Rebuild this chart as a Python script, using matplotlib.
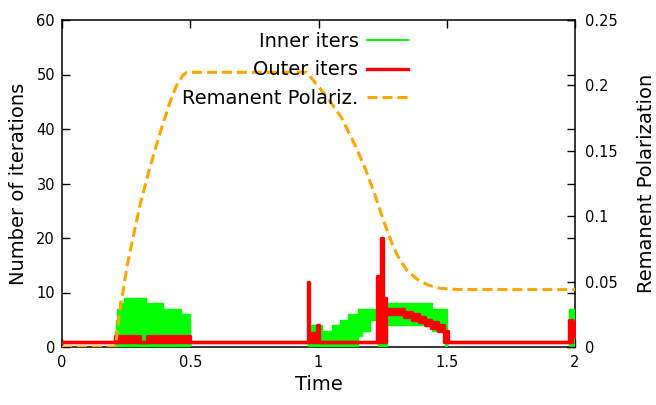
import numpy as np
import matplotlib
matplotlib.use("Agg")
import matplotlib.pyplot as plt
from matplotlib.lines import Line2D

nan = np.nan

# Inner iterations: step envelope (low/high) per time step, NaN splits active windows
inner_t = [0.2066, 0.209, 0.2157, 0.226, 0.2417, 0.326, 0.392, 0.464, 0.499, nan,
           0.960, 1.015, 1.051, 1.083, 1.116, 1.155, 1.170, 1.200, 1.233, 1.266,
           1.441, 1.495, 1.500, nan,
           1.978, 2.0]
inner_hi = [3, 5, 7, 8, 9, 8, 7, 6, 6, nan,
            4, 3, 4, 5, 6, 7, 7, 7, 8, 8,
            7, 7, 7, nan,
            7, 7]
inner_lo = [0, 0, 0, 0, 0, 0, 0, 0, 0, nan,
            0, 0, 0, 0, 0, 2, 3, 5, 0, 4,
            3, 0, 0, nan,
            0, 0]

# Outer iterations: step envelope (low/high)
outer_t = [0.0, 0.207, 0.304, 0.330, 0.500, 0.958, 0.962, 0.994, 1.003, 1.229,
           1.243, 1.250, 1.262, 1.335, 1.365, 1.390, 1.415, 1.440, 1.465, 1.490,
           1.503, 1.978, 1.987, 2.0]
outer_hi = [1, 2, 1, 2, 1, 12, 2.5, 4, 1, 13,
            20, 9, 7, 6.5, 6, 5.5, 5, 4.5, 4, 3,
            1, 5, 4.5, 4.5]
outer_lo = [1, 1, 1, 1, 1, 1, 1, 1, 1, 1,
            1, 1, 6, 5.5, 5, 4.5, 4, 3.5, 3, 1,
            1, 1, 2, 2]

# Remanent polarization versus time
pol_t = [0.0, 0.2066, 0.2105, 0.2195, 0.2288, 0.2390, 0.2522, 0.2585, 0.3041, 0.3431,
         0.3821, 0.4211, 0.4472, 0.4729, 0.4873, 0.9540, 0.9786, 1.0320, 1.0905, 1.1423,
         1.1813, 1.2203, 1.2526, 1.2916, 1.3177, 1.3438, 1.3828, 1.4269, 1.4737, 1.5388,
         2.0]
pol_v = [0.0, 0.0, 0.0031, 0.0183, 0.0336, 0.0436, 0.0604, 0.0665, 0.1086, 0.1376,
         0.1636, 0.1873, 0.2003, 0.2080, 0.2100, 0.2100, 0.2041, 0.1914, 0.1751, 0.1544,
         0.1368, 0.1162, 0.0971, 0.0765, 0.0665, 0.0589, 0.0520, 0.0474, 0.0449, 0.0440,
         0.0440]

x_ticks = [0, 0.5, 1, 1.5, 2]
x_labels = ["0", "0.5", "1", "1.5", "2"]
y_ticks = [0, 10, 20, 30, 40, 50, 60]
y2_ticks = [0, 0.05, 0.1, 0.15, 0.2, 0.25]
y2_labels = ["0", "0.05", "0.1", "0.15", "0.2", "0.25"]

GREEN = "#00ff00"
RED = "#ff0000"
ORANGE = "#ffa500"
DASH = (3.3, 1.6)

plt.rcParams["font.family"] = ["DejaVu Sans"]

fig = plt.figure(figsize=(6.56, 4.05), dpi=100)
ax = fig.add_axes([62 / 656, 58 / 405, 513 / 656, 327 / 405])
ax2 = ax.twinx()

ax.fill_between(inner_t, inner_lo, inner_hi, step="post", facecolor=GREEN,
                edgecolor=GREEN, linewidth=1.0, zorder=3)
ax.fill_between(outer_t, outer_lo, outer_hi, step="post", facecolor=RED,
                edgecolor=RED, linewidth=2.4, zorder=4)
ax2.plot(pol_t, pol_v, color=ORANGE, lw=2.2, dashes=DASH,
         dash_capstyle="butt", zorder=5)

ax.set_xlim(0, 2)
ax.set_ylim(0, 60)
ax2.set_ylim(0, 0.25)

ax.set_xticks(x_ticks)
ax.set_xticklabels(x_labels)
ax.set_yticks(y_ticks)
ax2.set_yticks(y2_ticks)
ax2.set_yticklabels(y2_labels)

ax.tick_params(axis="both", direction="in", length=6, width=1, labelsize=10.5,
               top=True, right=True, labelright=False, pad=5)
ax.tick_params(axis="x", pad=6)
ax2.tick_params(axis="y", direction="in", length=6, width=1, labelsize=10.5, pad=7)

for sp in ax2.spines.values():
    sp.set_visible(False)
for sp in ax.spines.values():
    sp.set_linewidth(1.1)

ax.set_xlabel("Time", fontsize=14, labelpad=3.5)
ax.set_ylabel("Number of iterations", fontsize=14, labelpad=6)
ax2.set_ylabel("Remanent Polarization", fontsize=14, labelpad=14)

handles = [
    Line2D([], [], color=GREEN, lw=1.5),
    Line2D([], [], color=RED, lw=2.4),
    Line2D([], [], color=ORANGE, lw=2.2, dashes=DASH, dash_capstyle="butt"),
]
labels = ["Inner iters", "Outer iters", "Remanent Polariz."]
ax2.legend(handles, labels, loc="upper right", bbox_to_anchor=(0.6745, 0.963),
           frameon=False, fontsize=14, markerfirst=False, handlelength=2.1,
           handletextpad=0.45, labelspacing=0.48, borderpad=0, borderaxespad=0)

fig.savefig("out.png", dpi=100)
